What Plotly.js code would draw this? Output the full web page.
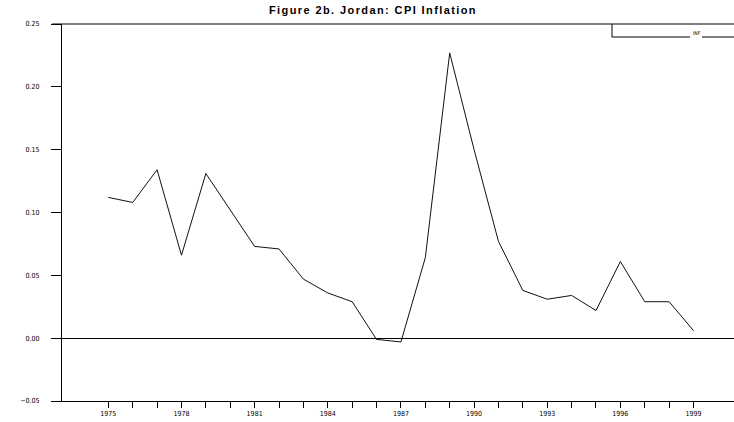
<!DOCTYPE html>
<html><head><meta charset="utf-8">
<script src="https://cdn.plot.ly/plotly-3.0.1.min.js"></script>
<style>html,body{margin:0;padding:0;background:#fff}#c{width:734px;height:422px}.gtitle{letter-spacing:1.4px}</style>
</head><body><div id="c"></div>
<script>
const years = [1975,1976,1977,1978,1979,1980,1981,1982,1983,1984,1985,1986,1987,1988,1989,1990,1991,1992,1993,1994,1995,1996,1997,1998,1999];
const inflation = [0.112,0.108,0.134,0.066,0.131,0.102,0.073,0.071,0.047,0.036,0.029,-0.001,-0.003,0.064,0.227,0.150,0.077,0.038,0.031,0.034,0.022,0.061,0.029,0.029,0.006];
const tickYears = [1975,1976,1977,1978,1979,1980,1981,1982,1983,1984,1985,1986,1987,1988,1989,1990,1991,1992,1993,1994,1995,1996,1997,1998,1999];
const tickLabels = ['1975','','','1978','','','1981','','','1984','','','1987','','','1990','','','1993','','','1996','','','1999'];
const yTicks = [-0.05,0.00,0.05,0.10,0.15,0.20,0.25];
const seriesName = 'INF';
const titleText = 'Figure 2b. Jordan: CPI Inflation';

const lx0 = (612-62)/672, ly = (401-37)/377;
Plotly.newPlot('c', [{
  x: years, y: inflation, type: 'scatter', mode: 'lines', name: seriesName,
  line: {color: '#111', width: 1}, showlegend: false
}], {
  width: 734, height: 422,
  margin: {l: 62, r: 0, t: 24, b: 21},
  paper_bgcolor: '#fff', plot_bgcolor: '#fff',
  title: {text: '<b>' + titleText + '</b>', x: 373/734, xanchor: 'center', xref: 'container',
          y: 1 - 10/422, yanchor: 'middle', yref: 'container',
          font: {family: 'Liberation Sans, Arial, sans-serif', size: 11, color: '#000'}},
  xaxis: {range: [1973.1, 2000.66], tickvals: tickYears, ticktext: tickLabels,
          ticks: 'outside', ticklen: 6, tickcolor: '#000', tickwidth: 1,
          showline: true, linecolor: '#000', linewidth: 1, mirror: false,
          showgrid: false, zeroline: false,
          tickfont: {family: 'DejaVu Sans Condensed, DejaVu Sans, sans-serif', size: 7, color: '#000'}},
  yaxis: {range: [-0.05, 0.25], tickvals: yTicks, tickformat: '.2f',
          ticks: 'outside', ticklen: 10, tickcolor: '#000', tickwidth: 1,
          showline: true, linecolor: '#000', linewidth: 1,
          showgrid: false, zeroline: true, zerolinecolor: '#000', zerolinewidth: 1,
          ticklabelstandoff: 10,
          tickfont: {family: 'DejaVu Sans Condensed, DejaVu Sans, sans-serif', size: 7, color: '#000'}},
  shapes: [
    {type: 'line', xref: 'paper', yref: 'paper', x0: -10/672, x1: 1, y0: 1, y1: 1, line: {color: '#000', width: 1}},
    {type: 'line', xref: 'paper', yref: 'paper', x0: lx0, x1: lx0, y0: 1, y1: ly, line: {color: '#000', width: 1}},
    {type: 'line', xref: 'paper', yref: 'paper', x0: lx0, x1: (690-62)/672, y0: ly, y1: ly, line: {color: '#000', width: 1}},
    {type: 'line', xref: 'paper', yref: 'paper', x0: (702-62)/672, x1: 1, y0: ly, y1: ly, line: {color: '#000', width: 1}}
  ],
  annotations: [
    {text: seriesName, xref: 'paper', yref: 'paper', x: (691-62)/672, y: (401-33)/377, xanchor: 'left', yanchor: 'middle',
     showarrow: false, font: {family: 'DejaVu Sans Condensed, sans-serif', size: 5, color: '#000'}}
  ]
}, {displayModeBar: false, staticPlot: true});
</script></body></html>
